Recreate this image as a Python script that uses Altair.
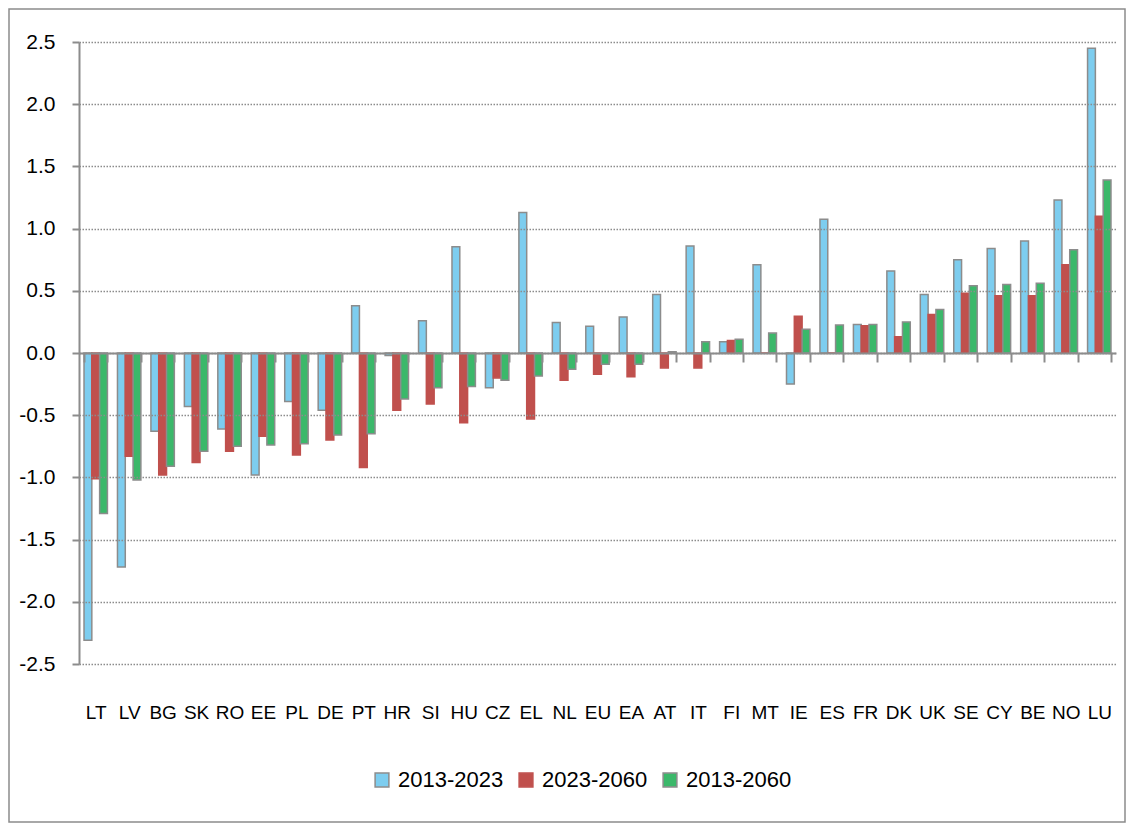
import altair as alt
import pandas as pd

countries = ["LT", "LV", "BG", "SK", "RO", "EE", "PL", "DE", "PT", "HR", "SI", "HU", "CZ", "EL", "NL",
             "EU", "EA", "AT", "IT", "FI", "MT", "IE", "ES", "FR", "DK", "UK", "SE", "CY", "BE", "NO", "LU"]
series = ["2013-2023", "2023-2060", "2013-2060"]

v_2013_2023 = [-2.31, -1.72, -0.63, -0.43, -0.61, -0.98, -0.39, -0.46, 0.38, -0.02, 0.26, 0.855, -0.28, 1.13, 0.245,
               0.215, 0.29, 0.47, 0.86, 0.09, 0.71, -0.25, 1.075, 0.23, 0.66, 0.47, 0.75, 0.84, 0.90, 1.23, 2.45]
v_2023_2060 = [-1.01, -0.83, -0.98, -0.88, -0.79, -0.67, -0.82, -0.70, -0.92, -0.46, -0.41, -0.56, -0.20, -0.53, -0.22,
               -0.17, -0.19, -0.12, -0.12, 0.10, 0.0, 0.295, 0.0, 0.22, 0.13, 0.31, 0.48, 0.46, 0.46, 0.71, 1.10]
v_2013_2060 = [-1.29, -1.02, -0.91, -0.79, -0.75, -0.74, -0.73, -0.66, -0.65, -0.37, -0.28, -0.27, -0.22, -0.185, -0.13,
               -0.09, -0.09, 0.01, 0.09, 0.11, 0.16, 0.19, 0.225, 0.23, 0.25, 0.35, 0.54, 0.55, 0.56, 0.83, 1.39]
y_ticks = [-2.5, -2.0, -1.5, -1.0, -0.5, 0.0, 0.5, 1.0, 1.5, 2.0, 2.5]

rows = []
for i, c in enumerate(countries):
    for s, vals in zip(series, [v_2013_2023, v_2023_2060, v_2013_2060]):
        rows.append({"country": c, "series": s, "value": vals[i]})
df = pd.DataFrame(rows)

FONT = "Liberation Sans, Arial, sans-serif"
GRAY = "#8c8c8c"
fill_colors = ["#7dcdef", "#c0504d", "#3bb86a"]
stroke_colors = [GRAY, "#c0504d", GRAY]

legend = alt.Legend(
    title=None, orient="none", legendX=292, legendY=727, direction="horizontal",
    symbolType="square", symbolSize=190, symbolStrokeWidth=1.5, labelFont=FONT,
    labelFontSize=22, labelColor="black", labelOffset=5, columnPadding=11, padding=0,
)

bars = alt.Chart(df).mark_bar(strokeWidth=1.5).encode(
    x=alt.X(
        "country:N", sort=countries, title=None,
        scale=alt.Scale(paddingInner=0.3, paddingOuter=0.15),
        axis=alt.Axis(
            orient="bottom", offset=-311, tickBand="extent", ticks=True, tickSize=9,
            tickWidth=2, tickColor=GRAY, domain=True, domainColor=GRAY, domainWidth=2,
            labelAngle=0, labelFont=FONT, labelFontSize=19, labelColor="black",
            labelPadding=356, labelBaseline="alphabetic", grid=False, zindex=1,
        ),
    ),
    xOffset=alt.XOffset("series:N", sort=series, scale=alt.Scale(paddingInner=0, paddingOuter=0)),
    y=alt.Y(
        "value:Q", title=None,
        scale=alt.Scale(domain=[-2.5, 2.5], nice=False, zero=False),
        axis=alt.Axis(
            values=y_ticks, labelExpr="replace(format(datum.value, '.1f'), '\u2212', '-')",
            labelFont=FONT, labelFontSize=21, labelColor="black", labelPadding=17,
            tickSize=7, tickWidth=2, tickColor=GRAY, domainColor=GRAY, domainWidth=2,
            grid=True, gridColor=GRAY, gridWidth=1.5, gridDash=[1.5, 1.5], zindex=1,
        ),
    ),
    fill=alt.Fill("series:N", sort=series, scale=alt.Scale(domain=series, range=fill_colors), legend=legend),
    stroke=alt.Stroke("series:N", sort=series, scale=alt.Scale(domain=series, range=stroke_colors), legend=legend),
)

frame = alt.Chart(pd.DataFrame({"k": [0]})).mark_rect(
    filled=False, stroke=GRAY, strokeWidth=1.5
).encode(
    x=alt.value(-70), x2=alt.value(1046), y=alt.value(-33), y2=alt.value(780)
)

chart = alt.layer(frame, bars).properties(
    width=1037, height=622,
    autosize=alt.AutoSizeParams(type="none"),
    padding={"left": 71, "top": 34, "right": 10, "bottom": 160},
).configure_view(stroke=None)

chart.save("out.html", embed_options={"renderer": "svg", "actions": False})
